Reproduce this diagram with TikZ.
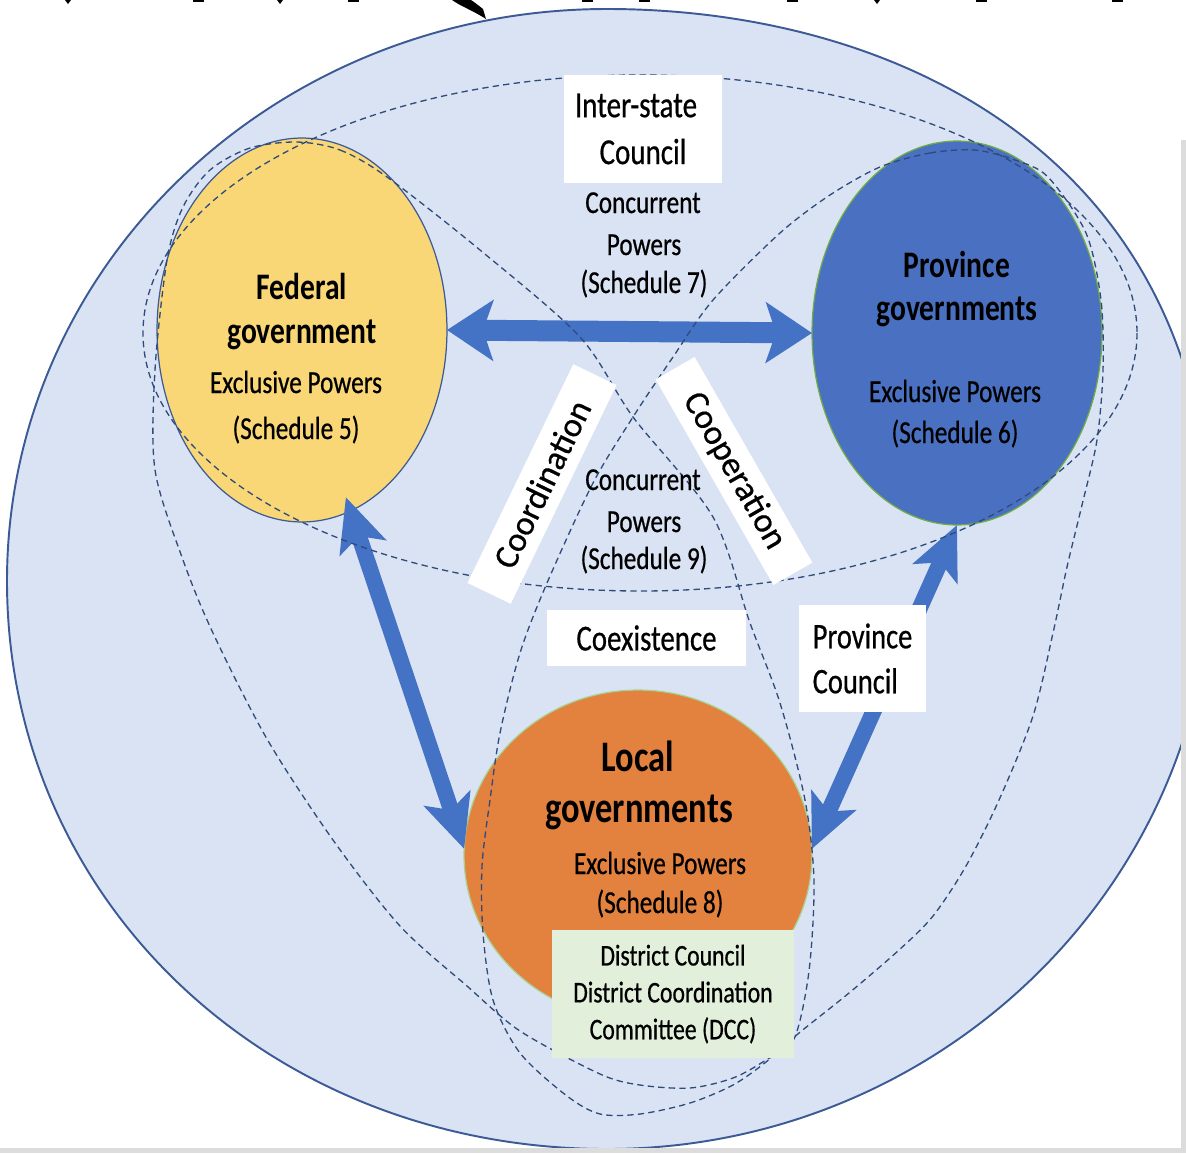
\documentclass[tikz,border=0pt]{standalone}
\usepackage{fontspec}
\setmainfont{Carlito}[FakeStretch=0.79, UprightFeatures={FakeBold=0.6}]
\newfontfamily\rotfont{Carlito}[FakeBold=0.6]
\usetikzlibrary{arrows.meta,shapes.geometric}
\definecolor{bgblue}{HTML}{DAE3F3}
\definecolor{bigline}{HTML}{3C5A96}
\definecolor{fedyellow}{HTML}{F9D776}
\definecolor{provblue}{HTML}{4A70C1}
\definecolor{locorange}{HTML}{E3813E}
\definecolor{arrowblue}{HTML}{4472C4}
\definecolor{dashblue}{HTML}{2F4B7C}
\definecolor{dccgreen}{HTML}{E2EFDA}
\definecolor{greenline}{HTML}{70AD47}
\definecolor{lightgreenline}{HTML}{A9D18E}
\definecolor{framegray}{HTML}{DCDCDC}
\begin{document}
\begin{tikzpicture}[x=0.02cm, y=-0.02cm,
  govt/.style={ellipse, inner sep=0pt, outer sep=0pt, line width=0.7pt},
  dashline/.style={draw=dashblue, line width=0.75pt, dash pattern=on 3.6pt off 2.4pt},
  hbig/.style={draw=arrowblue, line width=0.42cm, {Stealth[length=0.92cm,width=1.2cm,inset=0.2cm]}-{Stealth[length=0.92cm,width=1.2cm,inset=0.2cm]}},
  dbig/.style={draw=arrowblue, line width=0.32cm, {Stealth[length=1.06cm,width=0.96cm,inset=0.24cm]}-{Stealth[length=1.06cm,width=0.96cm,inset=0.24cm]}},
  labelbox/.style={fill=white, inner sep=0pt, outer sep=0pt},
  txt/.style={anchor=base, inner sep=0pt, font=\fontsize{18.2}{22}\selectfont},
  titletxt/.style={anchor=base, inner sep=0pt, font=\fontsize{21.3}{26}\selectfont\bfseries},
  loctitle/.style={anchor=base, inner sep=0pt, font=\fontsize{24.8}{30}\selectfont\bfseries},
]
\useasboundingbox (0,0) rectangle (1186,1153);
\clip (0,0) rectangle (1186,1153);
\fill[white] (0,0) rectangle (1186,1153);

% big background shape (ellipse with slightly fuller upper right)
\draw[bigline, line width=1.1pt, fill=bgblue]
  (7,581) .. controls (7,264) and (276,9) .. (607,9)
  .. controls (900,9) and (1215,160) .. (1212,560)
  .. controls (1212,884) and (941,1149) .. (607,1149)
  .. controls (268,1149) and (7,900) .. (7,581) -- cycle;

% government ellipses
\node[govt, draw=bigline, fill=fedyellow, minimum width=5.8cm, minimum height=7.68cm] (fed) at (302,330) {};
\node[govt, draw=greenline, fill=provblue, minimum width=5.8cm, minimum height=7.68cm] (prov) at (957,333) {};
\node[govt, draw=lightgreenline, fill=locorange, minimum width=6.96cm, minimum height=6.6cm] (loc) at (638,855) {};

% arrows
\draw[hbig] (fed.east) -- (prov.west);
\draw[dbig, shorten <=-0.29cm] (fed.-75) -- (loc.178);
\draw[dbig] (prov.-90) -- (loc.2);

% dashed groupings
\draw[dashline] (640,333) ellipse [x radius=497, y radius=258];
\draw[dashline] plot[smooth cycle, tension=0.5] coordinates {
 (297,142) (340,150) (387,177) (480,250) (580,337) (633,417) (713,517) (750,623)
 (780,703) (805,800) (814,881) (809,971) (794,1039) (766,1060) (733,1078)
 (690,1088) (640,1085) (600,1074) (520,1031) (467,986) (400,926) (333,840)
 (267,739) (213,633) (183,560) (155,470) (155,370) (167,260) (183,207) (210,170) (250,148)};
\draw[dashline] plot[smooth cycle, tension=0.5] coordinates {
 (880,167) (930,153) (975,150) (1015,160) (1048,177) (1086,233) (1101,300)
 (1103,370) (1097,440) (1082,505) (1067,567) (1053,633) (1033,716) (999,800)
 (966,866) (933,916) (899,950) (849,993) (799,1033) (766,1062) (733,1085)
 (690,1103) (640,1114) (600,1114) (567,1096) (520,1053) (493,1000) (483,933)
 (482,866) (490,800) (500,733) (520,653) (547,583) (593,483) (633,417)
 (673,357) (713,300) (780,233) (830,195)};

% label boxes
\node[labelbox, minimum width=3.16cm, minimum height=2.16cm, align=center,
  font=\fontsize{20.9}{26.7}\selectfont] (isc) at (643,129) {Inter-state\kern0.28cm\\Council};
\node[labelbox, minimum width=3.98cm, minimum height=1.12cm,
  font=\fontsize{20.8}{24}\selectfont] (coex) at (646.5,638) {Coexistence};
\node[labelbox, minimum width=2.54cm, minimum height=2.14cm, align=left,
  font=\fontsize{20.5}{25.6}\selectfont] (pc) at (862.5,658.5) {Province\\Council};
\node[labelbox, fill=dccgreen, minimum width=4.84cm, minimum height=2.56cm, align=center,
  font=\fontsize{17.1}{21}\selectfont] (dcc) at (673,994) {District Council\\District Coordination\\Committee (DCC)};
\node[labelbox, rotate=64.2, minimum width=4.86cm, minimum height=0.96cm,
  font=\rotfont\fontsize{19.6}{24}\selectfont] (coord) at (542,484) {Coordination};
\node[labelbox, rotate=-60.2, minimum width=4.74cm, minimum height=0.9cm,
  font=\rotfont\fontsize{19.8}{24}\selectfont] (coop) at (734,471) {Cooperation};

% federal text
\node[titletxt] (fedt1) at (302,299) {Federal};
\node[titletxt] (fedt2) at (302,343) {government};
\node[txt] (fedp1) at (296,393) {Exclusive Powers};
\node[txt] (fedp2) at (296,439) {(Schedule 5)};
% province text
\node[titletxt] (provt1) at (957,277) {Province};
\node[titletxt] (provt2) at (957,320) {governments};
\node[txt] (provp1) at (955,402) {Exclusive Powers};
\node[txt] (provp2) at (955,443) {(Schedule 6)};
% local text
\node[loctitle] (loct1) at (638,771) {Local};
\node[loctitle] (loct2) at (639,822) {governments};
\node[txt] (locp1) at (660,874) {Exclusive Powers};
\node[txt] (locp2) at (660,913) {(Schedule 8)};
% concurrent powers
\node[txt] (cs7a) at (643,213) {Concurrent};
\node[txt] (cs7b) at (644,255) {Powers};
\node[txt] (cs7c) at (644,293) {(Schedule 7)};
\node[txt] (cs9a) at (643,490) {Concurrent};
\node[txt] (cs9b) at (644,532) {Powers};
\node[txt] (cs9c) at (644,569) {(Schedule 9)};

% frame edges
\fill[framegray] (1181,140) rectangle (1186,1153);
\fill[framegray] (0,1148) rectangle (1186,1153);

% cut-off glyph fragments at the top edge
\fill[black] (452,0) .. controls (462,7) and (472,10) .. (486,19) -- (483,9) .. controls (478,5) and (474,2) .. (471,0) -- cycle;
\foreach \xa in {193,348,582,639,787,976,1112} {\fill[black] (\xa,0) rectangle ++(11,2);}
\foreach \xa in {68,280,877} {\fill[black] (\xa-3,0) -- (\xa+3,0) -- (\xa,4) -- cycle;}
\end{tikzpicture}
\end{document}
